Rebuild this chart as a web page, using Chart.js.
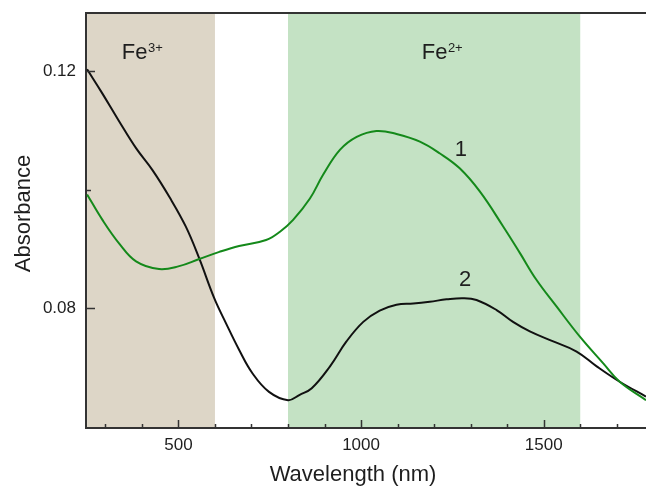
<!DOCTYPE html>
<html>
<head>
<meta charset="utf-8">
<script src="https://cdn.jsdelivr.net/npm/chart.js@4/dist/chart.umd.min.js"></script>
<style>
  html, body { margin: 0; padding: 0; background: #ffffff; }
  #wrap { width: 646px; height: 486px; }
</style>
</head>
<body>
<div id="wrap"><canvas id="c" width="646" height="486"></canvas></div>
<script>
// ---- data ----
const wavelength1 = [250, 292, 338, 384, 447, 502, 557, 612, 666, 740, 778, 814, 860, 896, 942, 988, 1042, 1097, 1161, 1216, 1270, 1325, 1389, 1435, 1480, 1535, 1599, 1663, 1708, 1780];
const absorbance1 = [0.0992, 0.0949, 0.0909, 0.0879, 0.0866, 0.0871, 0.0883, 0.0895, 0.0905, 0.0915, 0.0929, 0.0949, 0.0985, 0.1025, 0.1067, 0.1089, 0.1099, 0.1094, 0.1081, 0.1061, 0.1036, 0.0997, 0.0938, 0.0893, 0.0848, 0.0803, 0.0752, 0.0707, 0.0676, 0.0645];

const wavelength2 = [250, 292, 338, 384, 429, 475, 520, 557, 598, 630, 666, 703, 748, 800, 832, 865, 915, 960, 1006, 1051, 1097, 1143, 1188, 1234, 1279, 1316, 1371, 1416, 1462, 1526, 1590, 1645, 1708, 1780];
const absorbance2 = [0.1203, 0.1162, 0.1115, 0.1070, 0.1033, 0.0988, 0.0938, 0.0884, 0.0817, 0.0775, 0.0730, 0.0690, 0.0659, 0.0645, 0.0654, 0.0665, 0.0702, 0.0744, 0.0777, 0.0796, 0.0806, 0.0808, 0.0811, 0.0815, 0.0817, 0.0814, 0.0797, 0.0777, 0.0761, 0.0744, 0.0727, 0.0702, 0.0676, 0.0651];

const seriesNames = ['1', '2'];
const bandNames = ['Fe', 'Fe'];
const bandCharges = ['3+', '2+'];
const bandStart = [250, 800];
const bandEnd = [600, 1600];

const xMajorTicks = [500, 1000, 1500];
const xMinorTicks = [300, 400, 600, 700, 800, 900, 1100, 1200, 1300, 1400, 1600, 1700];
const yMajorTicks = [0.08, 0.12];
const yMinorTicks = [0.10];

const xTitle = 'Wavelength (nm)';
const yTitle = 'Absorbance';

// ---- styling / layout ----
const FONT = '"Liberation Sans", Arial, Helvetica, sans-serif';
const bandColors = ['rgb(221,214,199)', 'rgb(196,226,196)'];
const lineColors = ['#14891a', '#111111'];
const axisColor = '#333333';
const textColor = '#1e1e1e';

// label anchor positions in data coordinates
const bandLabelX = [345, 1166];
const bandLabelY = 0.1221;
const seriesLabelX = [1273, 1285];
const seriesLabelY = [0.1067, 0.0848];

function pts(xs, ys) { return xs.map((x, i) => ({ x: x, y: ys[i] })); }

const decor = {
  id: 'decor',
  beforeDraw(chart) {
    const { ctx, chartArea: a, scales: { x, y } } = chart;
    ctx.save();
    ctx.fillStyle = '#ffffff';
    ctx.fillRect(0, 0, chart.width, chart.height);
    for (let i = 0; i < bandStart.length; i++) {
      const x0 = Math.max(a.left, x.getPixelForValue(bandStart[i]));
      const x1 = Math.min(a.right, x.getPixelForValue(bandEnd[i]));
      ctx.fillStyle = bandColors[i];
      ctx.fillRect(x0, a.top, x1 - x0, a.bottom - a.top);
    }
    ctx.restore();
  },
  afterDraw(chart) {
    const { ctx, chartArea: a, scales: { x, y } } = chart;
    ctx.save();
    // top spine
    ctx.strokeStyle = axisColor;
    ctx.lineWidth = 2;
    ctx.beginPath();
    ctx.moveTo(a.left - 1, a.top);
    ctx.lineTo(a.right, a.top);
    ctx.stroke();
    // inward ticks
    ctx.lineWidth = 1.5;
    const xt = (v, len) => { const p = Math.round(x.getPixelForValue(v)) + 0.5; ctx.beginPath(); ctx.moveTo(p, a.bottom); ctx.lineTo(p, a.bottom - len); ctx.stroke(); };
    const yt = (v, len) => { const p = Math.round(y.getPixelForValue(v)) + 0.5; ctx.beginPath(); ctx.moveTo(a.left, p); ctx.lineTo(a.left + len, p); ctx.stroke(); };
    xMajorTicks.forEach(v => xt(v, 8));
    xMinorTicks.forEach(v => xt(v, 4));
    yMajorTicks.forEach(v => yt(v, 9));
    yMinorTicks.forEach(v => yt(v, 5));

    ctx.fillStyle = textColor;
    // band labels with superscripts
    for (let i = 0; i < bandNames.length; i++) {
      const px = x.getPixelForValue(bandLabelX[i]);
      const py = y.getPixelForValue(bandLabelY);
      ctx.font = '22px ' + FONT;
      ctx.textAlign = 'left';
      ctx.textBaseline = 'alphabetic';
      ctx.fillText(bandNames[i], px, py);
      const w = ctx.measureText(bandNames[i]).width;
      ctx.font = '13px ' + FONT;
      ctx.fillText(bandCharges[i], px + w + 0.5, py - 6.5);
    }
    // series labels
    ctx.font = '22px ' + FONT;
    ctx.textAlign = 'center';
    ctx.textBaseline = 'middle';
    for (let i = 0; i < seriesNames.length; i++) {
      ctx.fillText(seriesNames[i], x.getPixelForValue(seriesLabelX[i]), y.getPixelForValue(seriesLabelY[i]));
    }
    // axis titles
    ctx.font = '22px ' + FONT;
    ctx.textAlign = 'center';
    ctx.textBaseline = 'alphabetic';
    ctx.fillText(xTitle, 353, 481);
    ctx.translate(30, 213.5);
    ctx.rotate(-Math.PI / 2);
    ctx.textBaseline = 'alphabetic';
    ctx.fillText(yTitle, 0, 0);
    ctx.restore();
  }
};

new Chart(document.getElementById('c'), {
  type: 'line',
  data: {
    datasets: [
      { label: seriesNames[0], data: pts(wavelength1, absorbance1), borderColor: lineColors[0], borderWidth: 2, pointRadius: 0, fill: false, tension: 0.4 },
      { label: seriesNames[1], data: pts(wavelength2, absorbance2), borderColor: lineColors[1], borderWidth: 2, pointRadius: 0, fill: false, tension: 0.4 }
    ]
  },
  options: {
    responsive: false,
    animation: false,
    events: [],
    layout: { padding: { top: 13, right: 0, left: 0, bottom: 0 } },
    plugins: { legend: { display: false }, tooltip: { enabled: false }, title: { display: false } },
    scales: {
      x: {
        type: 'linear',
        min: 247, max: 1780,
        afterBuildTicks(s) { s.ticks = xMajorTicks.map(v => ({ value: v })); },
        afterFit(s) { s.height = 58; s.paddingLeft = 0; s.paddingRight = 0; },
        grid: { display: false, drawTicks: false },
        border: { display: true, color: axisColor, width: 2 },
        ticks: { color: textColor, font: { family: FONT, size: 17 }, padding: 7, maxRotation: 0, autoSkip: false, callback: v => String(v) },
        title: { display: false }
      },
      y: {
        type: 'linear',
        min: 0.0598, max: 0.1298,
        afterBuildTicks(s) { s.ticks = yMajorTicks.map(v => ({ value: v })); },
        afterFit(s) { s.width = 86; s.paddingTop = 0; s.paddingBottom = 0; },
        grid: { display: false, drawTicks: false },
        border: { display: true, color: axisColor, width: 2 },
        ticks: { color: textColor, font: { family: FONT, size: 17 }, padding: 10, autoSkip: false, callback: v => v.toFixed(2) },
        title: { display: false }
      }
    }
  },
  plugins: [decor]
});
</script>
</body>
</html>
